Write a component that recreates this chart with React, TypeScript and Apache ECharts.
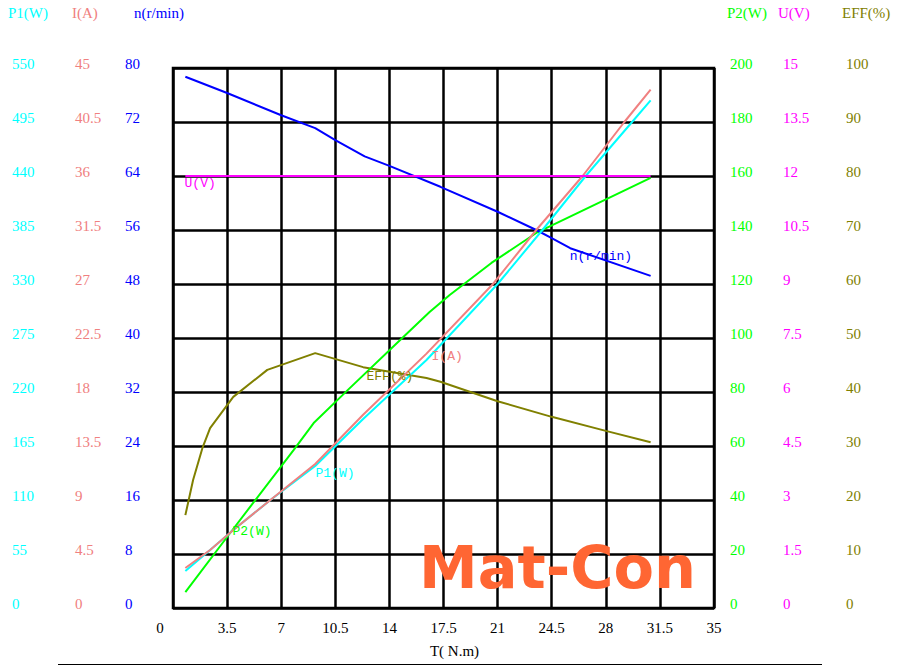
import React, { useEffect, useRef } from "react";
import * as echarts from "echarts";

// ---- axis definitions ----
const X_TICKS_MAX = 35;
const X_INTERVAL = 3.5;
const P1_MAX = 550, P1_STEP = 55;
const I_MAX = 45, I_STEP = 4.5;
const N_MAX = 80, N_STEP = 8;
const P2_MAX = 200, P2_STEP = 20;
const U_MAX = 15, U_STEP = 1.5;
const EFF_MAX = 100, EFF_STEP = 10;

// ---- series data (T in N.m) ----
const N_T = [0.8, 3.5, 7.0, 9.2, 10.5, 12.4, 14.0, 17.3, 21.0, 23.5, 24.5, 25.7, 30.9];
const N_VAL = [78.7, 76.3, 73.0, 71.1, 69.3, 66.9, 65.5, 62.4, 58.7, 56.0, 54.8, 53.3, 49.2];

const I_T = [0.8, 2.4, 3.9, 6.3, 9.2, 12.3, 16.4, 20.7, 23.5, 26.5, 29.2, 30.9];
const I_VAL = [3.33, 4.83, 6.5, 9.0, 12.0, 16.1, 21.2, 27.0, 31.5, 36.0, 40.5, 43.2];

const P1_T = [0.8, 2.4, 3.9, 6.3, 9.2, 12.3, 16.4, 21.0, 23.9, 26.7, 29.7, 30.9];
const P1_VAL = [37.7, 59, 79.4, 110, 144.6, 192.5, 252.6, 330, 385, 440, 495, 517];

const P2_T = [0.8, 3.5, 7.8, 9.1, 11.3, 14.9, 16.6, 17.9, 20.6, 23.5, 30.9];
const P2_VAL = [5.9, 26.3, 58.5, 68.5, 80.7, 100.4, 109.6, 115.9, 127.8, 138.9, 159.3];

const U_T = [0.8, 30.9];
const U_VAL = [12.0, 12.0];

const EFF_T = [0.8, 1.3, 1.9, 2.4, 3.9, 6.1, 9.2, 12.3, 16.4, 17.3, 21.0, 24.5, 28.0, 30.9];
const EFF_VAL = [17.2, 23.7, 29.6, 33.3, 39.1, 44.1, 47.2, 44.6, 42.6, 41.9, 38.3, 35.4, 32.8, 30.7];

// curve label anchors [T, value]
const LABEL_P1: [number, number] = [9.25, 136.5];
const LABEL_I: [number, number] = [16.76, 20.9];
const LABEL_N: [number, number] = [25.7, 52];
const LABEL_P2: [number, number] = [3.88, 28.1];
const LABEL_U: [number, number] = [0.78, 11.78];
const LABEL_EFF: [number, number] = [12.55, 42.8];

const C_P1 = "#00ffff";
const C_I = "#f08080";
const C_N = "#0000ff";
const C_P2 = "#00ff00";
const C_U = "#ff00ff";
const C_EFF = "#808000";

const SERIF = '"Liberation Serif", "Times New Roman", serif';
const MONO = '"Liberation Mono", "DejaVu Sans Mono", monospace';

const pairs = (xs: number[], ys: number[]) => xs.map((x, i) => [x, ys[i]]);

function yAxis(
  position: "left" | "right",
  offset: number,
  max: number,
  step: number,
  color: string,
  split: boolean
) {
  return {
    type: "value",
    position,
    offset,
    min: 0,
    max,
    interval: step,
    axisLine: { show: false },
    axisTick: { show: false },
    axisLabel: {
      align: "left",
      verticalAlign: "bottom",
      lineHeight: 9,
      margin: 0,
      color,
      fontFamily: SERIF,
      fontSize: 15,
    },
    splitLine: {
      show: split,
      lineStyle: { color: "#000", width: 2.5 },
    },
  };
}

function curve(name: string, yIdx: number, data: number[][], color: string, label: [number, number], text: string) {
  return {
    name,
    type: "line",
    yAxisIndex: yIdx,
    data,
    symbol: "none",
    smooth: false,
    lineStyle: { color, width: 2 },
    itemStyle: { color },
    markPoint: {
      silent: true,
      symbol: "circle",
      symbolSize: 1,
      itemStyle: { color: "transparent" },
      label: {
        show: true,
        position: [0, 0],
        align: "left",
        verticalAlign: "middle",
        formatter: text,
        color,
        fontFamily: MONO,
        fontSize: 13,
      },
      data: [{ coord: label, value: 0 }],
    },
  };
}

export default function App() {
  const ref = useRef<HTMLDivElement>(null);
  useEffect(() => {
    if (!ref.current) return;
    const chart = echarts.init(ref.current, null, { renderer: "svg" });
    const gridLeft = 173, gridTop = 68, gridW = 541, gridH = 540;
    const nameText = (text: string, x: number, color: string) => ({
      type: "text",
      x,
      y: 13,
      style: { text, fill: color, font: `15px ${SERIF}`, verticalAlign: "middle", align: "left" },
    });
    chart.setOption({
      animation: false,
      backgroundColor: "#fff",
      grid: {
        left: gridLeft,
        top: gridTop,
        width: gridW,
        height: gridH,
        outerBoundsMode: "none",
        show: true,
        borderColor: "#000",
        borderWidth: 2.5,
      },
      xAxis: {
        type: "value",
        min: 0,
        max: X_TICKS_MAX,
        interval: X_INTERVAL,
        axisLine: { show: false },
        axisTick: { show: false },
        splitLine: { show: true, lineStyle: { color: "#000", width: 2.5 } },
        axisLabel: {
          color: "#000",
          fontFamily: SERIF,
          fontSize: 15,
          margin: 12,
          formatter: (v: number) => (v === 0 ? "{z|0}" : String(v)),
          rich: { z: { color: "#000", fontFamily: SERIF, fontSize: 15, padding: [0, 26, 0, 0] } },
        },
        name: "T( N.m)",
        nameLocation: "middle",
        nameGap: 35,
        nameTextStyle: { color: "#000", fontFamily: SERIF, fontSize: 15, padding: [0, 0, 0, 22] },
      },
      yAxis: [
        yAxis("left", 161, P1_MAX, P1_STEP, C_P1, true),
        yAxis("left", 98, I_MAX, I_STEP, C_I, false),
        yAxis("left", 48, N_MAX, N_STEP, C_N, false),
        yAxis("right", 16, P2_MAX, P2_STEP, C_P2, false),
        yAxis("right", 69, U_MAX, U_STEP, C_U, false),
        yAxis("right", 132, EFF_MAX, EFF_STEP, C_EFF, false),
      ],
      series: [
        curve("EFF", 5, pairs(EFF_T, EFF_VAL), C_EFF, LABEL_EFF, "EFF(%)"),
        curve("P2", 3, pairs(P2_T, P2_VAL), C_P2, LABEL_P2, "P2(W)"),
        curve("n", 2, pairs(N_T, N_VAL), C_N, LABEL_N, "n(r/min)"),
        curve("P1", 0, pairs(P1_T, P1_VAL), C_P1, LABEL_P1, "P1(W)"),
        curve("I", 1, pairs(I_T, I_VAL), C_I, LABEL_I, "I(A)"),
        curve("U", 4, pairs(U_T, U_VAL), C_U, LABEL_U, "U(V)"),
      ],
      graphic: [
        nameText("P1(W)", 8, C_P1),
        nameText("I(A)", 72, C_I),
        nameText("n(r/min)", 134, C_N),
        nameText("P2(W)", 727, C_P2),
        nameText("U(V)", 778, C_U),
        nameText("EFF(%)", 842, C_EFF),
        {
          type: "text",
          x: 419,
          y: 567,
          z: 100,
          style: {
            text: "Mat-Con",
            fill: "#ff6633",
            font: 'bold 59px "DejaVu Sans", sans-serif',
            verticalAlign: "middle",
            align: "left",
          },
        },
        {
          type: "line",
          shape: { x1: 58, y1: 664.5, x2: 822, y2: 664.5 },
          style: { stroke: "#000", lineWidth: 1 },
        },
      ],
    });
    return () => chart.dispose();
  }, []);
  return (
    <div
      ref={ref}
      style={{ position: "fixed", left: 0, top: 0, width: 897, height: 665, background: "#fff" }}
    />
  );
}
